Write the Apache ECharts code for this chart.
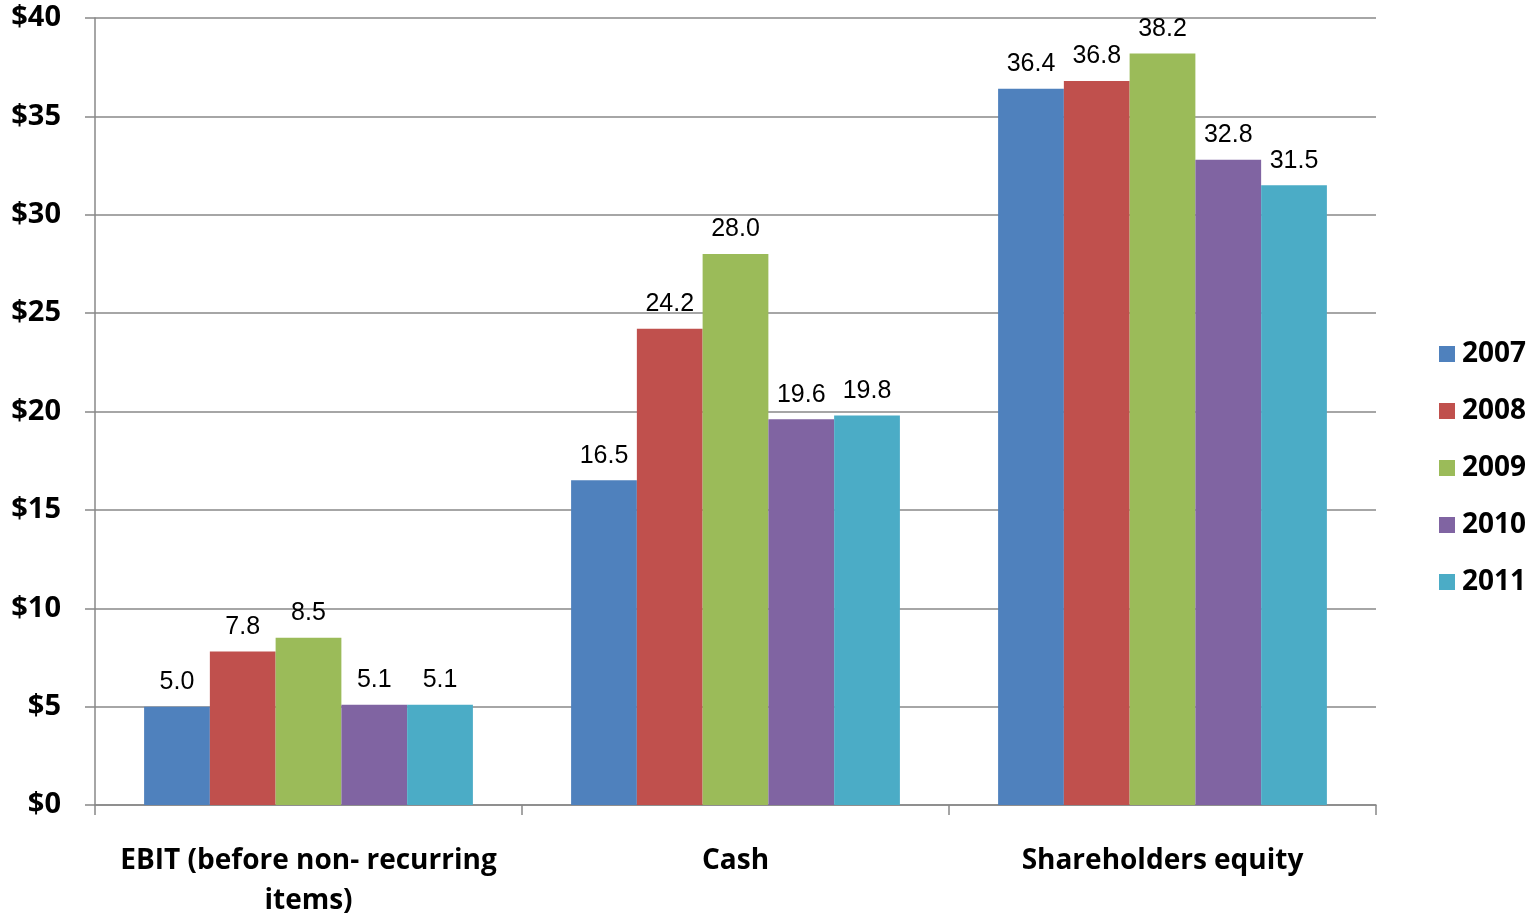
<!DOCTYPE html>
<html>
<head>
<meta charset="utf-8">
<script src="https://cdn.jsdelivr.net/npm/echarts@6/dist/echarts.min.js"></script>
<style>
  html, body { margin: 0; padding: 0; background: #fff; }
  #chart { width: 1537px; height: 914px; }
</style>
</head>
<body>
<div id="chart"></div>
<script>
const categories = ['EBIT (before non- recurring\nitems)', 'Cash', 'Shareholders equity'];
const years = ['2007', '2008', '2009', '2010', '2011'];
const values2007 = [5.0, 16.5, 36.4];
const values2008 = [7.8, 24.2, 36.8];
const values2009 = [8.5, 28.0, 38.2];
const values2010 = [5.1, 19.6, 32.8];
const values2011 = [5.1, 19.8, 31.5];
const colors = ['#4F81BD', '#C0504D', '#9BBB59', '#8064A2', '#4BACC6'];

const seriesValues = [values2007, values2008, values2009, values2010, values2011];

const chart = echarts.init(document.getElementById('chart'));

chart.setOption({
  animation: false,
  color: colors,
  grid: { left: 95, right: 161, top: 18, bottom: 109, containLabel: false, outerBoundsMode: 'none' },
  legend: {
    orient: 'vertical',
    left: 1434,
    top: 335,
    itemWidth: 16,
    itemHeight: 16,
    itemGap: 29,
    icon: 'rect',
    textStyle: { fontFamily: 'Open Sans', fontWeight: 'bold', fontSize: 28, color: '#000', padding: [0, 0, 0, 2] },
    data: years
  },
  xAxis: {
    type: 'category',
    data: categories,
    axisLine: { lineStyle: { color: '#888', width: 1.5 } },
    axisTick: { show: true, interval: 0, length: 10, lineStyle: { color: '#888', width: 1.5 } },
    axisLabel: {
      interval: 0,
      hideOverlap: false,
      margin: 36,
      fontFamily: 'Open Sans',
      fontWeight: 'bold',
      fontSize: 28,
      color: '#000',
      lineHeight: 40
    }
  },
  yAxis: {
    type: 'value',
    min: 0,
    max: 40,
    interval: 5,
    axisLine: { show: true, lineStyle: { color: '#888', width: 1.5 } },
    axisTick: { show: true, length: 10, lineStyle: { color: '#888', width: 1.5 } },
    splitLine: { lineStyle: { color: '#888', width: 1.5 } },
    axisLabel: {
      formatter: '${value}',
      margin: 34,
      fontFamily: 'Open Sans',
      fontWeight: 'bold',
      fontSize: 29,
      color: '#000'
    }
  },
  series: years.map((y, i) => ({
    name: y,
    type: 'bar',
    data: seriesValues[i],
    barGap: '0%',
    barCategoryGap: '23%',
    label: {
      show: true,
      position: 'top',
      distance: 12,
      formatter: (p) => p.value.toFixed(1),
      fontFamily: 'Liberation Sans',
      fontSize: 25,
      color: '#000'
    }
  }))
});
</script>
</body>
</html>
